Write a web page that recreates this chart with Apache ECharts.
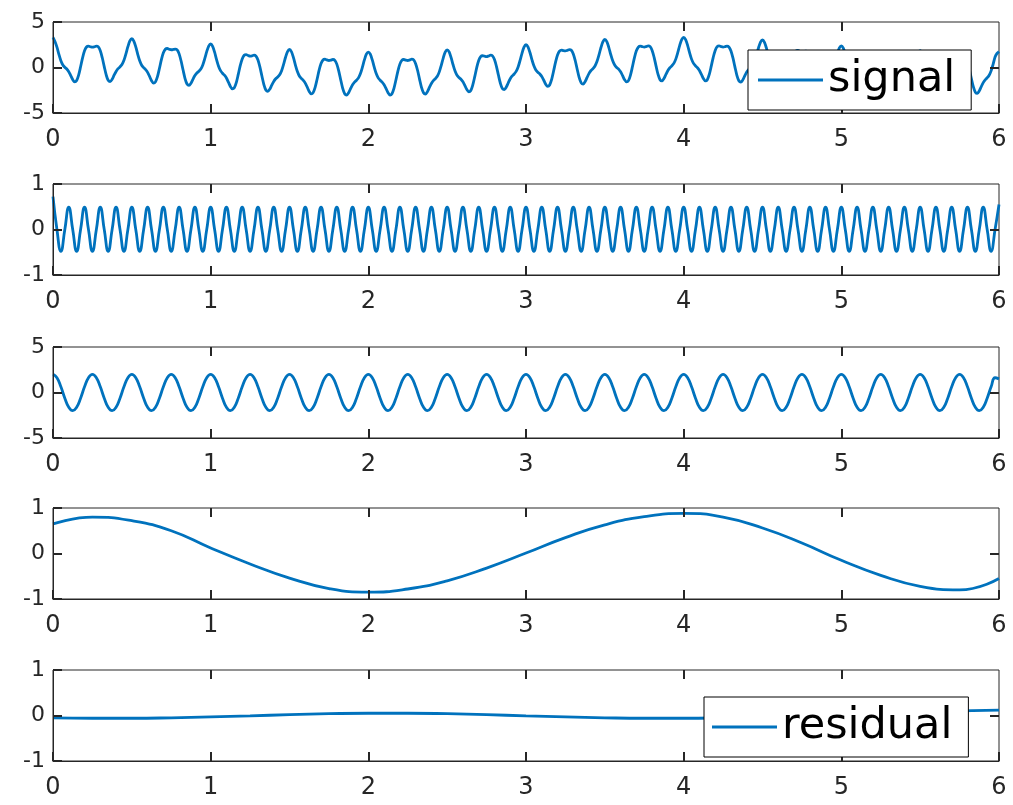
<!DOCTYPE html>
<html>
<head>
<meta charset="utf-8">
<script src="https://cdn.jsdelivr.net/npm/echarts@6/dist/echarts.min.js"></script>
<style>
  html, body { margin: 0; padding: 0; background: #ffffff; }
  #chart { width: 1013px; height: 805px; }
</style>
</head>
<body>
<div id="chart"></div>
<script>
// Sample spacing (seconds) of each record
const signalStep = 0.0125;
const fastStep = 0.025;
const slowStep = 0.25;

// x tick positions shared by every panel
const timeTicks = [0, 1, 2, 3, 4, 5, 6];

// Measured signal, one row per quarter second (12.5 ms samples)
const signal = [
  3.32, 2.86, 2.23, 1.44, 0.75, 0.28, 0.02, -0.17, -0.46, -0.89, -1.33, -1.58, -1.43, -0.84, 0.08, 1.06, 1.83, 2.25, 2.34, 2.28,
  2.24, 2.28, 2.35, 2.26, 1.84, 1.07, 0.10, -0.82, -1.41, -1.55, -1.30, -0.85, -0.43, -0.13, 0.07, 0.33, 0.79, 1.49, 2.29, 2.92,
  3.16, 2.91, 2.26, 1.45, 0.74, 0.25, -0.02, -0.24, -0.54, -0.98, -1.45, -1.71, -1.58, -1.01, -0.11, 0.86, 1.61, 2.01, 2.09, 2.01,
  1.95, 1.98, 2.03, 1.93, 1.50, 0.71, -0.28, -1.21, -1.81, -1.97, -1.73, -1.30, -0.88, -0.61, -0.42, -0.17, 0.28, 0.97, 1.74, 2.36,
  2.59, 2.33, 1.68, 0.86, 0.14, -0.35, -0.63, -0.85, -1.16, -1.61, -2.08, -2.35, -2.23, -1.66, -0.76, 0.20, 0.94, 1.34, 1.41, 1.32,
  1.26, 1.29, 1.35, 1.25, 0.82, 0.04, -0.94, -1.87, -2.47, -2.62, -2.38, -1.94, -1.53, -1.24, -1.05, -0.80, -0.35, 0.34, 1.13, 1.75,
  1.98, 1.73, 1.08, 0.27, -0.44, -0.93, -1.20, -1.42, -1.72, -2.16, -2.63, -2.89, -2.76, -2.19, -1.29, -0.32, 0.43, 0.83, 0.91, 0.83,
  0.77, 0.81, 0.88, 0.79, 0.37, -0.39, -1.37, -2.29, -2.88, -3.02, -2.77, -2.32, -1.89, -1.60, -1.40, -1.14, -0.67, 0.03, 0.83, 1.46,
  1.70, 1.46, 0.83, 0.03, -0.67, -1.14, -1.40, -1.60, -1.89, -2.32, -2.77, -3.02, -2.88, -2.29, -1.37, -0.39, 0.37, 0.79, 0.88, 0.81,
  0.77, 0.83, 0.91, 0.83, 0.42, -0.33, -1.30, -2.20, -2.78, -2.91, -2.65, -2.19, -1.75, -1.44, -1.23, -0.96, -0.48, 0.24, 1.04, 1.69,
  1.94, 1.71, 1.08, 0.30, -0.39, -0.85, -1.10, -1.29, -1.57, -1.99, -2.43, -2.67, -2.52, -1.92, -1.00, -0.01, 0.77, 1.19, 1.29, 1.24,
  1.20, 1.26, 1.35, 1.28, 0.88, 0.13, -0.83, -1.73, -2.30, -2.42, -2.15, -1.68, -1.24, -0.93, -0.71, -0.43, 0.06, 0.78, 1.59, 2.24,
  2.50, 2.27, 1.65, 0.87, 0.18, -0.27, -0.52, -0.71, -0.99, -1.40, -1.84, -2.08, -1.93, -1.32, -0.39, 0.59, 1.37, 1.80, 1.91, 1.85,
  1.82, 1.88, 1.96, 1.89, 1.49, 0.74, -0.22, -1.12, -1.69, -1.82, -1.55, -1.09, -0.64, -0.33, -0.12, 0.16, 0.65, 1.36, 2.17, 2.82,
  3.08, 2.84, 2.22, 1.43, 0.73, 0.27, 0.01, -0.18, -0.47, -0.89, -1.34, -1.58, -1.44, -0.84, 0.08, 1.06, 1.83, 2.25, 2.35, 2.29,
  2.25, 2.30, 2.38, 2.29, 1.88, 1.12, 0.15, -0.76, -1.34, -1.47, -1.22, -0.76, -0.33, -0.03, 0.18, 0.45, 0.92, 1.63, 2.43, 3.07,
  3.32, 3.07, 2.43, 1.63, 0.92, 0.45, 0.18, -0.03, -0.33, -0.76, -1.22, -1.47, -1.34, -0.76, 0.15, 1.12, 1.88, 2.29, 2.38, 2.30,
  2.25, 2.29, 2.35, 2.25, 1.82, 1.05, 0.07, -0.86, -1.46, -1.61, -1.36, -0.92, -0.50, -0.22, -0.02, 0.23, 0.69, 1.39, 2.17, 2.80,
  3.03, 2.77, 2.12, 1.31, 0.59, 0.10, -0.18, -0.40, -0.71, -1.15, -1.62, -1.89, -1.77, -1.20, -0.30, 0.66, 1.41, 1.81, 1.88, 1.79,
  1.73, 1.76, 1.81, 1.71, 1.28, 0.50, -0.49, -1.42, -2.03, -2.18, -1.95, -1.51, -1.10, -0.82, -0.63, -0.39, 0.07, 0.75, 1.53, 2.15,
  2.38, 2.12, 1.47, 0.66, -0.06, -0.55, -0.83, -1.05, -1.36, -1.80, -2.27, -2.54, -2.42, -1.85, -0.95, 0.01, 0.76, 1.16, 1.23, 1.14,
  1.08, 1.12, 1.18, 1.08, 0.65, -0.12, -1.10, -2.03, -2.63, -2.78, -2.53, -2.09, -1.67, -1.39, -1.19, -0.94, -0.48, 0.22, 1.00, 1.63,
  1.86, 1.61, 0.97, 0.17, -0.53, -1.01, -1.28, -1.48, -1.78, -2.22, -2.67, -2.93, -2.79, -2.21, -1.30, -0.33, 0.43, 0.84, 0.92, 0.85,
  0.80, 0.86, 0.95, 0.87, 0.47, -0.28, -1.24, -2.14, -2.71, -2.84, -2.57, -2.10, -1.66, -1.35, -1.13, -0.85, -0.37, 0.35, 1.16, 1.55,
  1.75
];

// First mode (fast oscillation), 25 ms samples
const imf1 = [
  0.72, 0, -0.48, 0, 0.49, 0, -0.48, 0, 0.49, 0, -0.48, 0, 0.49, 0, -0.48, 0, 0.49, 0, -0.48, 0,
  0.49, 0, -0.48, 0, 0.49, 0, -0.48, 0, 0.49, 0, -0.48, 0, 0.49, 0, -0.48, 0, 0.49, 0, -0.48, 0,
  0.49, 0, -0.48, 0, 0.49, 0, -0.48, 0, 0.49, 0, -0.48, 0, 0.49, 0, -0.48, 0, 0.49, 0, -0.48, 0,
  0.49, 0, -0.48, 0, 0.49, 0, -0.48, 0, 0.49, 0, -0.48, 0, 0.49, 0, -0.48, 0, 0.49, 0, -0.48, 0,
  0.49, 0, -0.48, 0, 0.49, 0, -0.48, 0, 0.49, 0, -0.48, 0, 0.49, 0, -0.48, 0, 0.49, 0, -0.48, 0,
  0.49, 0, -0.48, 0, 0.49, 0, -0.48, 0, 0.49, 0, -0.48, 0, 0.49, 0, -0.48, 0, 0.49, 0, -0.48, 0,
  0.49, 0, -0.48, 0, 0.49, 0, -0.48, 0, 0.49, 0, -0.48, 0, 0.49, 0, -0.48, 0, 0.49, 0, -0.48, 0,
  0.49, 0, -0.48, 0, 0.49, 0, -0.48, 0, 0.49, 0, -0.48, 0, 0.49, 0, -0.48, 0, 0.49, 0, -0.48, 0,
  0.49, 0, -0.48, 0, 0.49, 0, -0.48, 0, 0.49, 0, -0.48, 0, 0.49, 0, -0.48, 0, 0.49, 0, -0.48, 0,
  0.49, 0, -0.48, 0, 0.49, 0, -0.48, 0, 0.49, 0, -0.48, 0, 0.49, 0, -0.48, 0, 0.49, 0, -0.48, 0,
  0.49, 0, -0.48, 0, 0.49, 0, -0.48, 0, 0.49, 0, -0.48, 0, 0.49, 0, -0.48, 0, 0.49, 0, -0.48, 0,
  0.49, 0, -0.48, 0, 0.49, 0, -0.48, 0, 0.49, 0, -0.48, 0, 0.49, 0, -0.48, 0, 0.49, 0, -0.48, 0,
  0.55
];

// Second mode (medium oscillation), 25 ms samples
const imf2 = [
  2, 1.62, 0.62, -0.62, -1.62, -2, -1.62, -0.62, 0.62, 1.62,
  2, 1.62, 0.62, -0.62, -1.62, -2, -1.62, -0.62, 0.62, 1.62,
  2, 1.62, 0.62, -0.62, -1.62, -2, -1.62, -0.62, 0.62, 1.62,
  2, 1.62, 0.62, -0.62, -1.62, -2, -1.62, -0.62, 0.62, 1.62,
  2, 1.62, 0.62, -0.62, -1.62, -2, -1.62, -0.62, 0.62, 1.62,
  2, 1.62, 0.62, -0.62, -1.62, -2, -1.62, -0.62, 0.62, 1.62,
  2, 1.62, 0.62, -0.62, -1.62, -2, -1.62, -0.62, 0.62, 1.62,
  2, 1.62, 0.62, -0.62, -1.62, -2, -1.62, -0.62, 0.62, 1.62,
  2, 1.62, 0.62, -0.62, -1.62, -2, -1.62, -0.62, 0.62, 1.62,
  2, 1.62, 0.62, -0.62, -1.62, -2, -1.62, -0.62, 0.62, 1.62,
  2, 1.62, 0.62, -0.62, -1.62, -2, -1.62, -0.62, 0.62, 1.62,
  2, 1.62, 0.62, -0.62, -1.62, -2, -1.62, -0.62, 0.62, 1.62,
  2, 1.62, 0.62, -0.62, -1.62, -2, -1.62, -0.62, 0.62, 1.62,
  2, 1.62, 0.62, -0.62, -1.62, -2, -1.62, -0.62, 0.62, 1.62,
  2, 1.62, 0.62, -0.62, -1.62, -2, -1.62, -0.62, 0.62, 1.62,
  2, 1.62, 0.62, -0.62, -1.62, -2, -1.62, -0.62, 0.62, 1.62,
  2, 1.62, 0.62, -0.62, -1.62, -2, -1.62, -0.62, 0.62, 1.62,
  2, 1.62, 0.62, -0.62, -1.62, -2, -1.62, -0.62, 0.62, 1.62,
  2, 1.62, 0.62, -0.62, -1.62, -2, -1.62, -0.62, 0.62, 1.62,
  2, 1.62, 0.62, -0.62, -1.62, -2, -1.62, -0.62, 0.62, 1.62,
  2, 1.62, 0.62, -0.62, -1.62, -2, -1.62, -0.62, 0.62, 1.62,
  2, 1.62, 0.62, -0.62, -1.62, -2, -1.62, -0.62, 0.62, 1.62,
  2, 1.62, 0.62, -0.62, -1.62, -2, -1.62, -0.62, 0.62, 1.62,
  2, 1.62, 0.62, -0.62, -1.62, -2, -1.62, -0.62, 0.62, 1.62,
  1.5
];

// Third mode (slow swing), 250 ms samples
const imf3 = [
  0.65, 0.80, 0.72, 0.50, 0.12, -0.23, -0.54, -0.77, -0.85, -0.78,
  -0.60, -0.32, 0.01, 0.35, 0.63, 0.81, 0.88, 0.80, 0.56, 0.23,
  -0.15, -0.48, -0.72, -0.80, -0.55
];

// Residual trend, 250 ms samples
const residual = [
  -0.05, -0.06, -0.06, -0.05, -0.03, -0.01, 0.02, 0.04, 0.05, 0.05,
  0.04, 0.02, -0.01, -0.03, -0.05, -0.06, -0.06, -0.05, -0.03, 0.00,
  0.03, 0.06, 0.08, 0.10, 0.12
];

const panels = [
  { name: 'signal',   values: signal,   step: signalStep, yMin: -5, yMax: 5, yStep: 5, smooth: 0.3 },
  { name: 'imf1',     values: imf1,     step: fastStep,   yMin: -1, yMax: 1, yStep: 1, smooth: 0.5 },
  { name: 'imf2',     values: imf2,     step: fastStep,   yMin: -5, yMax: 5, yStep: 5, smooth: 0.5 },
  { name: 'imf3',     values: imf3,     step: slowStep,   yMin: -1, yMax: 1, yStep: 1, smooth: 0.5 },
  { name: 'residual', values: residual, step: slowStep,   yMin: -1, yMax: 1, yStep: 1, smooth: 0.5 }
];

const panelTops = [22, 184, 347, 508, 670];
const panelHeight = 91;
const panelLeft = 53, panelRight = 14;
const panelWidth = 1013 - panelLeft - panelRight;
const tickPx = 9;
const tickWidth = 2;
const lineColor = '#0072BD';
const inkColor = '#262626';
const fontFamily = 'DejaVu Sans';

const xMin = timeTicks[0], xMax = timeTicks[timeTicks.length - 1];
const grids = [], xAxes = [], yAxes = [], series = [];

// Inward tick marks on the top and right sides, expressed in data units
function mirrorTicks(p) {
  const dy = (p.yMax - p.yMin) * tickPx / panelHeight;
  const dx = (xMax - xMin) * tickPx / panelWidth;
  const segs = [];
  timeTicks.slice(1, -1).forEach(x => {
    segs.push([{ coord: [x, p.yMax] }, { coord: [x, p.yMax - dy] }]);
  });
  for (let y = p.yMin + p.yStep; y < p.yMax; y += p.yStep) {
    segs.push([{ coord: [xMax, y] }, { coord: [xMax - dx, y] }]);
  }
  return segs;
}

panels.forEach((p, i) => {
  grids.push({
    left: panelLeft, right: panelRight, top: panelTops[i], height: panelHeight,
    show: true, borderColor: inkColor, borderWidth: 1
  });
  // bottom and left axes carry labels and inward ticks
  xAxes.push({
    type: 'value', gridIndex: i, min: xMin, max: xMax, interval: 1,
    axisLine: { show: true, onZero: false, lineStyle: { color: inkColor, width: 1 } },
    axisTick: { show: true, inside: true, length: tickPx, lineStyle: { color: inkColor, width: tickWidth } },
    splitLine: { show: false },
    axisLabel: { color: inkColor, fontSize: 24, fontFamily, margin: 15 },
    z: 5
  });
  yAxes.push({
    type: 'value', gridIndex: i, min: p.yMin, max: p.yMax, interval: p.yStep,
    axisLine: { show: true, onZero: false, lineStyle: { color: inkColor, width: 1 } },
    axisTick: { show: true, inside: true, length: tickPx, lineStyle: { color: inkColor, width: tickWidth } },
    splitLine: { show: false },
    axisLabel: { color: inkColor, fontSize: 22, fontFamily, margin: 8 },
    z: 5
  });
  series.push({
    name: p.name, type: 'line',
    xAxisIndex: i, yAxisIndex: i,
    data: p.values.map((v, k) => [+(k * p.step).toFixed(4), v]),
    symbol: 'none', smooth: p.smooth,
    lineStyle: { color: lineColor, width: 2.8 },
    itemStyle: { color: lineColor },
    z: 2,
    markLine: {
      silent: true, animation: false, symbol: ['none', 'none'],
      label: { show: false },
      lineStyle: { color: inkColor, width: tickWidth, type: 'solid', opacity: 1 },
      emphasis: { disabled: true },
      data: mirrorTicks(p)
    }
  });
});

const legendBase = {
  orient: 'horizontal', icon: 'rect', itemWidth: 65, itemHeight: 3,
  backgroundColor: '#ffffff', borderColor: '#000000', borderWidth: 1, borderRadius: 0,
  textStyle: { color: '#000000', fontSize: 43, fontFamily, lineHeight: 50 },
  selectedMode: false, z: 10
};

const chart = echarts.init(document.getElementById('chart'), null, { renderer: 'canvas' });
chart.setOption({
  animation: false,
  backgroundColor: '#ffffff',
  grid: grids,
  xAxis: xAxes,
  yAxis: yAxes,
  legend: [
    Object.assign({}, legendBase, { data: ['signal'], left: 748, top: 50, padding: [5, 16, 5, 10] }),
    Object.assign({}, legendBase, { data: ['residual'], left: 704, top: 697, padding: [5, 16, 5, 8] })
  ],
  series
});
</script>
</body>
</html>
